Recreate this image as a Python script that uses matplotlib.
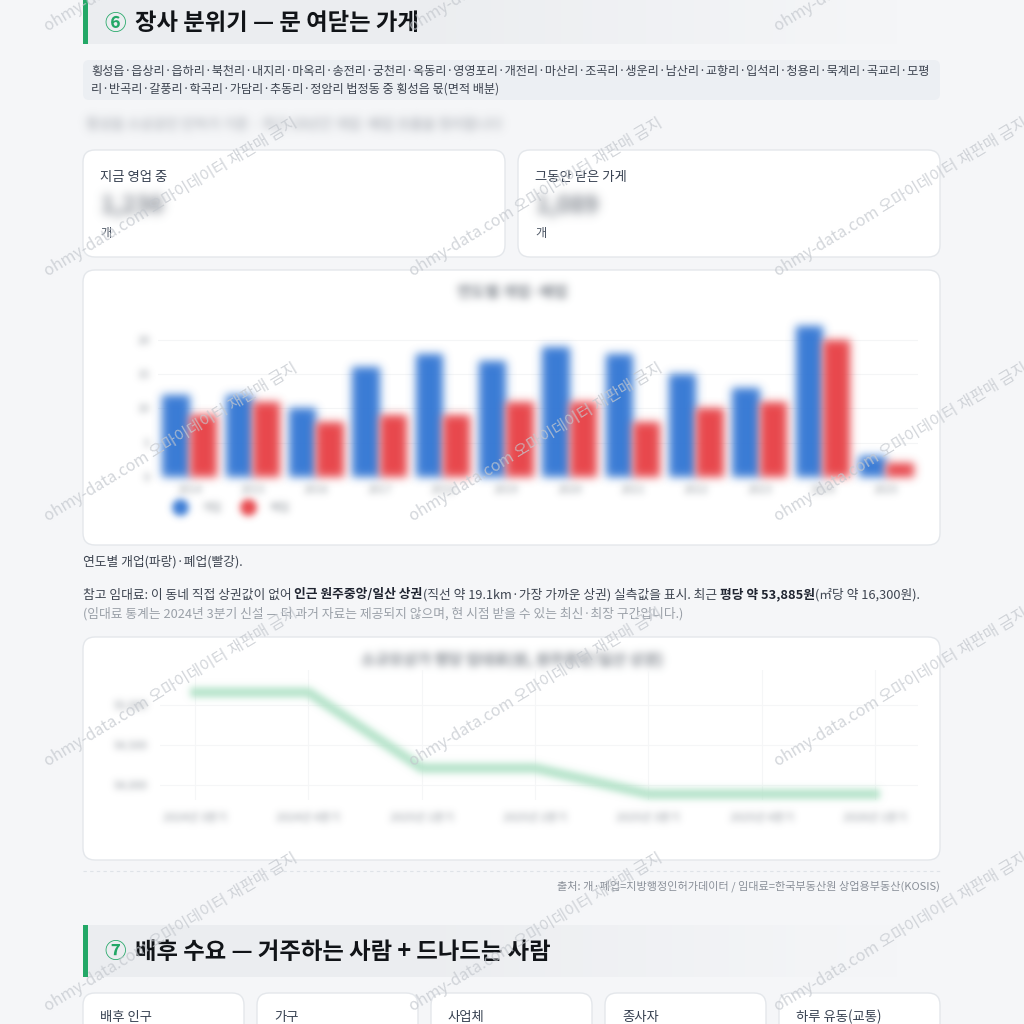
import numpy as np
import matplotlib
matplotlib.use('Agg')
import matplotlib.pyplot as plt
from matplotlib.patches import FancyBboxPatch, Rectangle
from matplotlib.lines import Line2D

plt.rcParams['font.family'] = ['Noto Sans CJK KR', 'DejaVu Sans']

# ---- data ----
years = ['2014', '2015', '2016', '2017', '2018', '2019',
         '2020', '2021', '2022', '2023', '2024', '2025']
opened = [12, 12, 10, 16, 18, 17, 19, 18, 15, 13, 22, 3]
closed = [9, 11, 8, 9, 9, 11, 11, 8, 10, 11, 20, 2]
bar_ticks = [0, 5, 10, 15, 20]

quarters = ['2024년 3분기', '2024년 4분기', '2025년 1분기', '2025년 2분기',
            '2025년 3분기', '2025년 4분기', '2026년 1분기']
rent = [55160, 55160, 54210, 54210, 53885, 53885, 53885]
rent_ticks = [54000, 54500, 55000]

areas = ('횡성읍·읍상리·읍하리·북천리·내지리·마옥리·송전리·궁천리·옥동리·영영포리·개전리·마산리·조곡리·생운리·남산리·교항리·입석리·청용리·묵계리·곡교리·모평',
         '리·반곡리·갈풍리·학곡리·가담리·추동리·정암리 법정동 중 횡성읍 몫(면적 배분)')
demand_cards = ['배후 인구', '가구', '사업체', '종사자', '하루 유동(교통)']

BG = '#f5f6f8'
GREEN = '#23a867'
BLUE = '#3a7bd5'
RED = '#e8474c'


def blur(sigma):
    # gaussian blur for agg_filter (premultiplied so edges don't darken)
    def _f(im, dpi):
        r = int(3 * sigma)
        a = im[..., 3:4]
        x = np.concatenate([im[..., :3] * a, a], axis=2)
        x = np.pad(x, ((r, r), (r, r), (0, 0)))
        k = np.exp(-0.5 * (np.arange(-r, r + 1) / sigma) ** 2)
        k /= k.sum()
        for axis in (0, 1):
            acc = np.zeros_like(x)
            for i, w in enumerate(k):
                acc += w * np.roll(x, i - r, axis=axis)
            x = acc
        out = x.copy()
        out[..., :3] = x[..., :3] / np.maximum(x[..., 3:4], 1e-6)
        return np.clip(out, 0, 1), -r, -r
    return _f


fig = plt.figure(figsize=(10.24, 10.24), dpi=100, facecolor=BG)
bg = fig.add_axes([0, 0, 1, 1], zorder=0)
bg.set_xlim(0, 1024)
bg.set_ylim(1024, 0)
bg.axis('off')
bg.set_facecolor(BG)


def card(x0, y0, x1, y1, fc='white', ec='#e4e7eb', r=12):
    bg.add_patch(FancyBboxPatch((x0, y0), x1 - x0, y1 - y0,
                                boxstyle=f'round,pad=0,rounding_size={r}',
                                fc=fc, ec=ec, lw=1.0))


def header(y0, y1, num, title):
    grad = np.ones((1, 256, 4))
    grad[..., :3] = np.array([0xeb, 0xed, 0xf0]) / 255
    grad[0, :, 3] = np.clip(np.linspace(1.6, 0, 256), 0, 1)
    bg.imshow(grad, extent=(88, 900, y1, y0), aspect='auto', zorder=1)
    bg.add_patch(Rectangle((83, y0), 5, y1 - y0, fc=GREEN, ec='none', zorder=2))
    ym = (y0 + y1) / 2
    bg.text(104, ym + 1, num, color=GREEN, fontsize=15.5, fontweight='bold',
            va='center', ha='left', zorder=3)
    bg.text(135, ym + 1, title, color='#111418', fontsize=16.8, fontweight='heavy',
            va='center', ha='left', zorder=3)


renderer = fig.canvas.get_renderer()


def rich(x, y, parts, size, **kw):
    for txt, weight, color in parts:
        t = bg.text(x, y, txt, fontsize=size, fontweight=weight, color=color,
                    va='center', ha='left', **kw)
        x += t.get_window_extent(renderer).width


# ---- section 6 ----
header(0, 44, '⑥', '장사 분위기 — 문 여닫는 가게')
card(83, 60, 940, 100, fc='#eceff3', ec='none', r=6)
bg.text(91, 72, areas[0], fontsize=8.75, color='#3d4450', va='center')
bg.text(91, 89, areas[1], fontsize=8.75, color='#3d4450', va='center')

t = bg.text(86, 125, '횡성읍 소상공인 인허가 기준 · 최근 10년간 개업·폐업 흐름을 정리합니다',
            fontsize=10, color='#959aa2', va='center')
t.set_agg_filter(blur(4.5))

card(83, 150, 505, 257)
card(518, 150, 940, 257)
for x0, label, num in [(100, '지금 영업 중', '1,236'), (535, '그동안 닫은 가게', '1,089')]:
    bg.text(x0, 177, label, fontsize=9.6, color='#374151', va='center')
    t = bg.text(x0, 206, num, fontsize=17, fontweight='bold', color='#7a8089', va='center')
    t.set_agg_filter(blur(5))
    bg.text(x0, 233, '개', fontsize=8.8, color='#4b5563', va='center')

card(83, 270, 940, 545)
t = bg.text(512, 292, '연도별 개업·폐업', fontsize=11, fontweight='bold',
            color='#7d838b', ha='center', va='center')
t.set_agg_filter(blur(4))

W = 1024
ax = fig.add_axes([158 / W, 1 - 477 / W, 760 / W, 161 / W], zorder=1)
ax.patch.set_alpha(0)
xs = np.arange(len(years))
b1 = ax.bar(xs - 0.215, opened, 0.43, color=BLUE)
b2 = ax.bar(xs + 0.215, closed, 0.43, color=RED)
for b in list(b1) + list(b2):
    b.set_agg_filter(blur(4.5))
ax.set_xlim(-0.5, len(years) - 0.5)
ax.set_ylim(0, 23.5)
ax.set_yticks(bar_ticks)
ax.set_xticks(xs, years)
ax.grid(axis='y', color='#f4f5f6', lw=0.8)
ax.set_axisbelow(True)
for s in ax.spines.values():
    s.set_visible(False)
ax.tick_params(length=0, labelsize=8, labelcolor='#8f959c', pad=6)
for lab in ax.get_xticklabels() + ax.get_yticklabels():
    lab.set_agg_filter(blur(3.5))
handles = [Line2D([], [], ls='', marker='o', ms=11, color=BLUE, label='개업'),
           Line2D([], [], ls='', marker='o', ms=11, color=RED, label='폐업')]
leg = ax.legend(handles=handles, loc='center left', bbox_to_anchor=(169 / W, 1 - 508 / W),
                bbox_transform=fig.transFigure, ncol=2, frameon=False, fontsize=8,
                labelcolor='#8f959c', handletextpad=0.9, columnspacing=1.4,
                borderpad=0, borderaxespad=0)
leg.set_agg_filter(blur(3.5))

bg.text(83, 562, '연도별 개업(파랑)·폐업(빨강).', fontsize=9.2, color='#3d4450', va='center')
rich(83, 595, [('참고 임대료: 이 동네 직접 상권값이 없어 ', 'normal', '#3d4450'),
               ('인근 원주중앙/일산 상권', 'bold', '#1f2430'),
               ('(직선 약 19.1km·가장 가까운 상권) 실측값을 표시. 최근 ', 'normal', '#3d4450'),
               ('평당 약 53,885원', 'bold', '#1f2430'),
               ('(㎡당 약 16,300원).', 'normal', '#3d4450')], 9.2)
bg.text(83, 614, '(임대료 통계는 2024년 3분기 신설 — 더 과거 자료는 제공되지 않으며, 현 시점 받을 수 있는 최신·최장 구간입니다.)',
        fontsize=9.2, color='#9aa0a8', va='center')

card(83, 637, 940, 860)
t = bg.text(512, 660, '소규모상가 평당 임대료(원, 원주중앙/일산 상권)', fontsize=11,
            fontweight='bold', color='#7d838b', ha='center', va='center')
t.set_agg_filter(blur(4))

ax2 = fig.add_axes([160 / W, 1 - 800 / W, 758 / W, 130 / W], zorder=1)
ax2.patch.set_alpha(0)
qx = np.arange(len(quarters))
ln, = ax2.plot(qx, rent, color='#b4e3c9', lw=7, solid_joinstyle='round')
ln.set_agg_filter(blur(3.5))
ax2.set_xlim(-0.31, 6.38)
ax2.set_ylim(53810, 55440)
ax2.set_yticks(rent_ticks, [f'{v:,}' for v in rent_ticks])
ax2.set_xticks(qx, quarters)
ax2.grid(color='#f5f6f7', lw=0.8)
for s in ax2.spines.values():
    s.set_visible(False)
ax2.tick_params(length=0, labelsize=8, labelcolor='#8f959c', pad=9)
for lab in ax2.get_xticklabels() + ax2.get_yticklabels():
    lab.set_agg_filter(blur(3.5))

bg.plot([83, 940], [871, 871], color='#dfe3e8', lw=0.8, ls=(0, (3, 3)))
bg.text(940, 886, '출처: 개·폐업=지방행정인허가데이터 / 임대료=한국부동산원 상업용부동산(KOSIS)',
        fontsize=8, color='#8a9099', ha='right', va='center')

# ---- section 7 ----
header(925, 977, '⑦', '배후 수요 — 거주하는 사람 + 드나드는 사람')
for i, label in enumerate(demand_cards):
    x0 = 83 + i * 174
    card(x0, 993, x0 + 161, 1060)
    bg.text(x0 + 17, 1017, label, fontsize=9.6, color='#374151', va='center')

# ---- watermark ----
for wy in [35, 280, 525, 770, 1015]:
    for wx in [50, 415, 780]:
        fig.text(wx / W, 1 - wy / W, 'ohmy-data.com 오마이데이터 재판매 금지',
                 rotation=31, rotation_mode='anchor', ha='left', va='bottom',
                 fontsize=11.5, color='#c4c8ce', alpha=0.75, zorder=10)

fig.savefig('out.png', dpi=100, facecolor=BG)
